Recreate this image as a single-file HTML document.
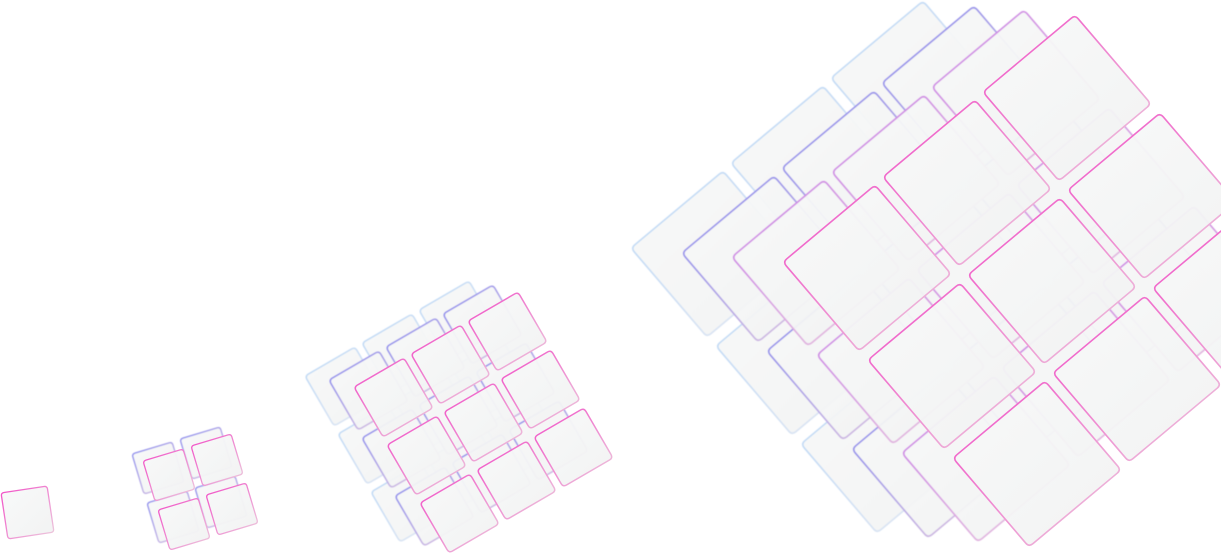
<!DOCTYPE html>
<html><head><meta charset="utf-8"><style>
html,body{margin:0;padding:0;background:#fff;width:1221px;height:553px;overflow:hidden;font-family:"Liberation Sans",sans-serif}
svg{display:block}
</style></head><body>
<svg id="art" width="1221" height="553" viewBox="0 0 1221 553" xmlns="http://www.w3.org/2000/svg">
<defs>
<linearGradient id="g-blue" x1="0" y1="0" x2="1" y2="1"><stop offset="0" stop-color="#b8d6f6"/><stop offset="1" stop-color="#e4e8f2"/></linearGradient>
<linearGradient id="g-indigo" x1="0" y1="0" x2="1" y2="1"><stop offset="0" stop-color="#7d80ee"/><stop offset="1" stop-color="#e8cadd"/></linearGradient>
<linearGradient id="g-violet" x1="0" y1="0" x2="1" y2="1"><stop offset="0" stop-color="#c678e6"/><stop offset="1" stop-color="#eac9dc"/></linearGradient>
<linearGradient id="g-pink" x1="0" y1="0" x2="1" y2="1"><stop offset="0" stop-color="#f24cc6"/><stop offset="1" stop-color="#ecccdd"/></linearGradient>
<linearGradient id="f-tile" x1="0" y1="0" x2="1" y2="1"><stop offset="0" stop-color="#f8f9f9"/><stop offset="1" stop-color="#f1f2f2"/></linearGradient>
<filter id="soft" x="-10%" y="-10%" width="120%" height="120%"><feGaussianBlur stdDeviation="0.6"/></filter>
</defs>
</svg>
<script>
const groupNames = ['tile-group-1','tile-group-2','tile-group-3','tile-group-4'];
const groupEdgeA = [[46,-7],[40,-12],[50,-29],[92,-77]];
const groupEdgeB = [[7,46],[12,40],[29,50],[76,89]];
const groupStepA = [[0,0],[48,-15],[57,-33],[100,-85]];
const groupStepB = [[0,0],[15,49],[33,58],[85,98]];
const groupCount = [1,2,3,3];
const groupWidth = [1.3,1.3,1.5,1.6];
const groupRadius = [3,3,4,5];
const groupLayers = [
  [[1,493,'g-pink']],
  [[132,454,'g-indigo'],[143,461,'g-pink']],
  [[305,376,'g-blue'],[329,380,'g-indigo'],[354,387,'g-pink']],
  [[631,248,'g-blue'],[682,253,'g-indigo'],[732,257,'g-violet'],[783,262,'g-pink']]
];
const svg = document.getElementById('art');
const NS = 'http://www.w3.org/2000/svg';
function roundedPath(pts, r) {
  let d = '';
  const n = pts.length;
  for (let k = 0; k < n; k++) {
    const p = pts[k], prev = pts[(k+n-1)%n], next = pts[(k+1)%n];
    const l1 = Math.hypot(prev[0]-p[0], prev[1]-p[1]);
    const l2 = Math.hypot(next[0]-p[0], next[1]-p[1]);
    const s = [p[0]+(prev[0]-p[0])*r/l1, p[1]+(prev[1]-p[1])*r/l1];
    const e = [p[0]+(next[0]-p[0])*r/l2, p[1]+(next[1]-p[1])*r/l2];
    d += (k===0?'M':'L') + s[0].toFixed(1)+','+s[1].toFixed(1) + ' Q' + p[0]+','+p[1]+' '+e[0].toFixed(1)+','+e[1].toFixed(1)+' ';
  }
  return d + 'Z';
}
for (let g = 0; g < groupNames.length; g++) {
  const grp = document.createElementNS(NS,'g');
  
  
  svg.appendChild(grp);
  const A = groupEdgeA[g], B = groupEdgeB[g], SA = groupStepA[g], SB = groupStepB[g], n = groupCount[g];
  const layers = groupLayers[g];
  layers.forEach((layer, li) => {
    const lg = document.createElementNS(NS,'g');
    
    
    if (li < layers.length - 1) lg.setAttribute('filter', 'url(#soft)');
    grp.appendChild(lg);
    for (let j = 0; j < n; j++) {
      for (let i = n - 1; i >= 0; i--) {
        const x = layer[0] + i*SA[0] + j*SB[0];
        const y = layer[1] + i*SA[1] + j*SB[1];
        const pts = [[x,y],[x+A[0],y+A[1]],[x+A[0]+B[0],y+A[1]+B[1]],[x+B[0],y+B[1]]];
        const p = document.createElementNS(NS,'path');
        p.setAttribute('d', roundedPath(pts, groupRadius[g]));
        p.setAttribute('fill', 'url(#f-tile)');
        p.setAttribute('fill-opacity', '0.94');
        p.setAttribute('stroke', 'url(#' + layer[2] + ')');
        p.setAttribute('stroke-width', groupWidth[g]);
        p.setAttribute('stroke-linejoin', 'round');
        
        
        lg.appendChild(p);
      }
    }
  });
}
</script>
</body></html>
